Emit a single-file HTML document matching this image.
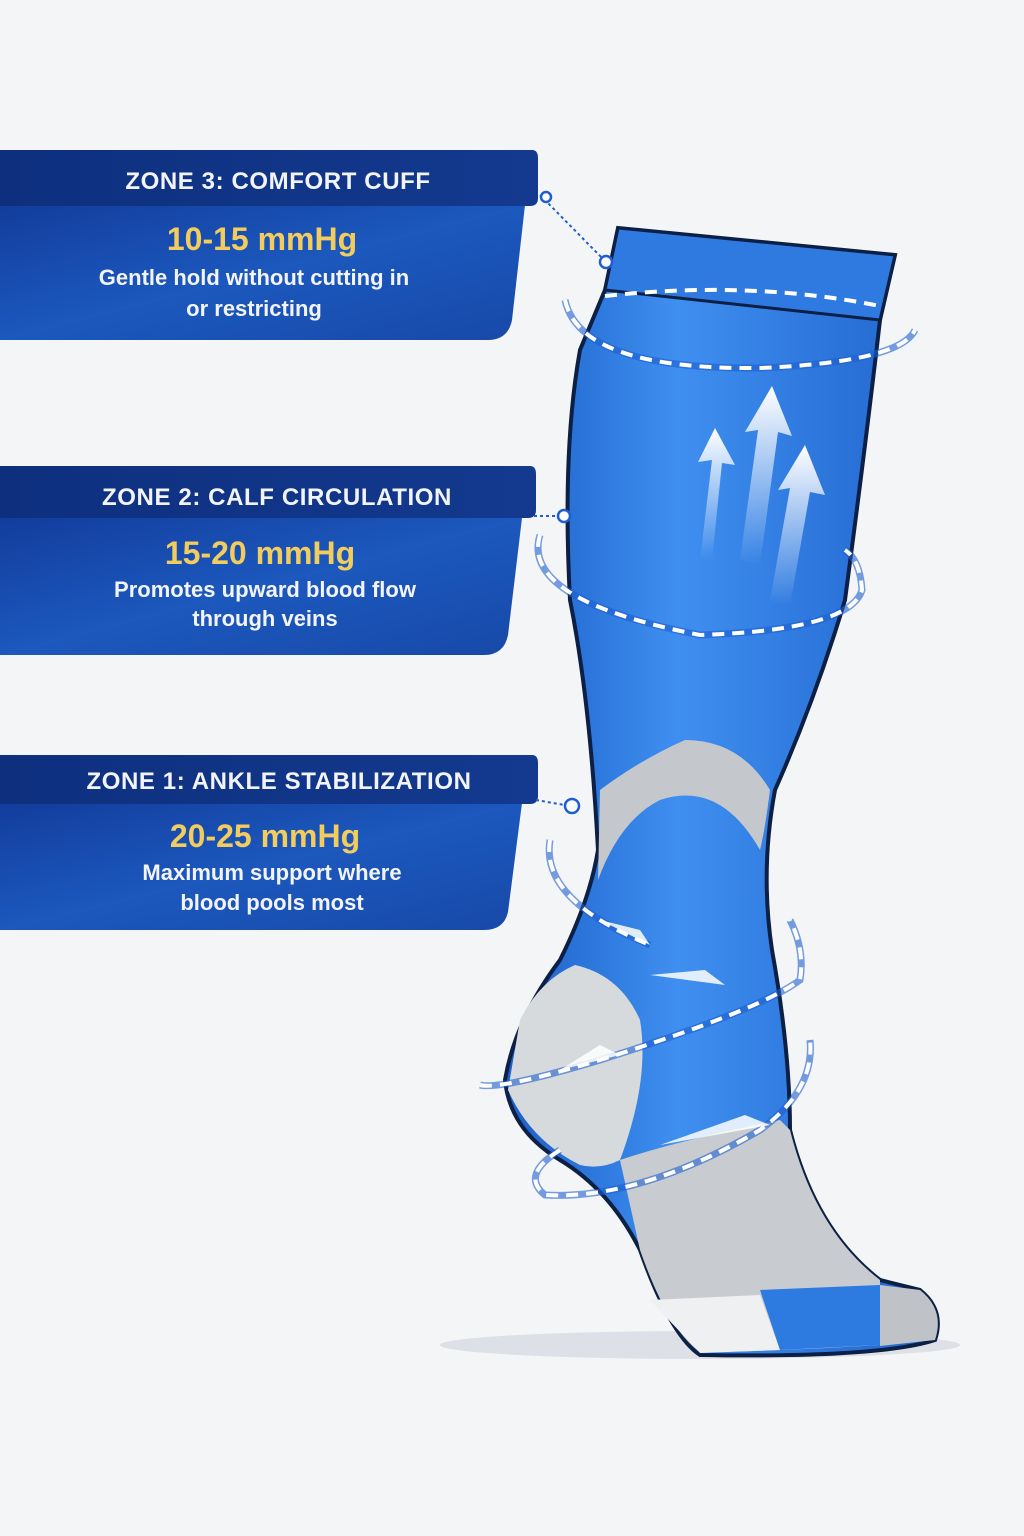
<!DOCTYPE html>
<html><head><meta charset="utf-8"><style>
html,body{margin:0;padding:0;width:1024px;height:1536px;background:#f4f5f6;overflow:hidden;font-family:"Liberation Sans",sans-serif}
svg{position:absolute;left:0;top:0}
</style></head><body>
<svg width="1024" height="1536" viewBox="0 0 1024 1536">
<defs>
<linearGradient id="hb" x1="0" x2="1"><stop offset="0" stop-color="#0e2f7e"/><stop offset="1" stop-color="#133a8f"/></linearGradient>
<linearGradient id="bb" x1="0" x2="1" y1="0" y2="1"><stop offset="0" stop-color="#123d9c"/><stop offset="0.5" stop-color="#1c58bd"/><stop offset="1" stop-color="#1749a8"/></linearGradient>
<linearGradient id="sock" x1="0" x2="1"><stop offset="0" stop-color="#1b5fc8"/><stop offset="0.4" stop-color="#3f8ff0"/><stop offset="1" stop-color="#1f63cc"/></linearGradient>
<linearGradient id="arr" x1="0" y1="1" x2="0" y2="0"><stop offset="0" stop-color="#fff" stop-opacity="0"/><stop offset="1" stop-color="#fff"/></linearGradient>
</defs>
<g>
<path d="M0 205 H525 L512 320 Q508 340 488 340 H0Z" fill="url(#bb)"/>
<path d="M0 150 H532 Q538 150 538 158 V198 Q538 206 530 206 H0Z" fill="url(#hb)"/>
<path d="M0 518 H522 L508 635 Q504 655 484 655 H0Z" fill="url(#bb)"/>
<path d="M0 466 H530 Q536 466 536 474 V510 Q536 518 528 518 H0Z" fill="url(#hb)"/>
<path d="M0 803 H522 L508 912 Q504 930 484 930 H0Z" fill="url(#bb)"/>
<path d="M0 755 H532 Q538 755 538 763 V796 Q538 804 530 804 H0Z" fill="url(#hb)"/>
</g>
<g font-weight="bold" text-anchor="middle" fill="#f2f4fa">
<text x="278" y="189" font-size="24" letter-spacing="0.6">ZONE 3: COMFORT CUFF</text>
<text x="262" y="250" font-size="32" fill="#f2cd5e">10-15 mmHg</text>
<text x="254" y="285" font-size="22">Gentle hold without cutting in</text>
<text x="254" y="316" font-size="22">or restricting</text>
<text x="277" y="505" font-size="24" letter-spacing="0.6">ZONE 2: CALF CIRCULATION</text>
<text x="260" y="564" font-size="32" fill="#f2cd5e">15-20 mmHg</text>
<text x="265" y="597" font-size="22">Promotes upward blood flow</text>
<text x="265" y="626" font-size="22">through veins</text>
<text x="279" y="789" font-size="24" letter-spacing="0.6">ZONE 1: ANKLE STABILIZATION</text>
<text x="265" y="847" font-size="32" fill="#f2cd5e">20-25 mmHg</text>
<text x="272" y="880" font-size="22">Maximum support where</text>
<text x="272" y="910" font-size="22">blood pools most</text>
</g>
<ellipse cx="700" cy="1345" rx="260" ry="14" fill="#dde0e6"/>
<path d="M618 228 L895 255 L880 320 Q865 450 845 600 Q815 700 775 790 Q760 870 772 950 Q790 1050 790 1130 Q815 1230 880 1280 L920 1290 Q945 1310 935 1340 Q880 1358 700 1355 Q670 1335 640 1250 Q610 1190 560 1160 Q510 1130 505 1080 Q515 1020 560 960 Q590 900 598 850 Q590 700 570 600 Q562 450 580 350 L605 290Z" fill="url(#sock)" stroke="#0c1f44" stroke-width="4"/>
<path d="M618 228 L895 255 L880 320 L605 290Z" fill="#2e7ae0" stroke="#0c1f44" stroke-width="3"/>
<path d="M600 790 Q640 760 685 740 Q740 740 770 790 Q765 830 760 850 Q720 780 660 800 Q620 820 598 880Z" fill="#c4c8cd"/>
<path d="M520 1020 Q540 980 575 965 Q620 975 640 1020 Q650 1080 620 1160 Q600 1170 580 1165 Q530 1140 508 1090Z" fill="#d7dadd"/>
<path d="M620 1160 Q680 1140 780 1120 L790 1130 Q815 1230 880 1280 L880 1345 Q760 1352 700 1352 Q668 1330 640 1250Z" fill="#c8ccd0"/>
<path d="M650 1300 L760 1295 L780 1350 L700 1353Z" fill="#eef0f2"/>
<path d="M760 1290 L880 1285 L880 1345 L780 1350Z" fill="#2d7ae0"/>
<path d="M880 1285 L920 1290 Q945 1310 935 1340 L880 1346Z" fill="#bfc3c8"/>
<g fill="url(#arr)">
<path d="M700 560 L712 460 L698 462 L715 428 L735 465 L722 463 L712 560Z"/>
<path d="M740 560 L758 430 L745 432 L772 386 L792 436 L778 432 L760 565Z"/>
<path d="M770 600 L790 488 L778 490 L805 445 L825 495 L810 492 L790 605Z"/>
</g>
<g fill="none" stroke="#1e5fd0" stroke-width="7" opacity="0.6">
<path d="M565 300 Q580 370 760 368 Q900 362 915 330"/>
<path d="M540 535 Q520 600 700 635 Q850 630 862 590 Q860 560 845 550"/>
<path d="M550 840 Q540 900 650 945"/>
<path d="M480 1085 Q500 1090 600 1060 Q760 1010 800 980 Q805 950 790 920"/>
<path d="M560 1150 Q520 1175 545 1195 Q640 1200 760 1130 Q815 1090 810 1040"/>
</g>
<g fill="none" stroke="#fff" stroke-width="4" stroke-dasharray="12 8">
<path d="M565 300 Q580 370 760 368 Q900 362 915 330"/>
<path d="M605 296 Q750 280 880 306"/>
<path d="M540 535 Q520 600 700 635 Q850 630 862 590 Q860 560 845 550"/>
<path d="M550 840 Q540 900 650 945"/>
<path d="M480 1085 Q500 1090 600 1060 Q760 1010 800 980 Q805 950 790 920"/>
<path d="M560 1150 Q520 1175 545 1195 Q640 1200 760 1130 Q815 1090 810 1040"/>
</g>
<g fill="none" stroke="#1e5fd0" stroke-width="2" stroke-dasharray="3 3">
<path d="M540 195 L606 262"/><path d="M534 516 L562 516"/><path d="M536 800 L570 806"/>
</g>
<g fill="#fff" stroke="#1e5fd0" stroke-width="2.5">
<circle cx="606" cy="262" r="6"/><circle cx="564" cy="516" r="6"/><circle cx="572" cy="806" r="7"/><circle cx="546" cy="197" r="5"/>
</g>
<g fill="#fff" opacity="0.85">
<path d="M600 920 L650 945 L640 930Z"/><path d="M650 975 L725 985 L705 970Z"/><path d="M560 1070 L620 1055 L600 1045Z"/><path d="M660 1145 L770 1125 L745 1115Z"/>
</g>
</svg>
</body></html>
